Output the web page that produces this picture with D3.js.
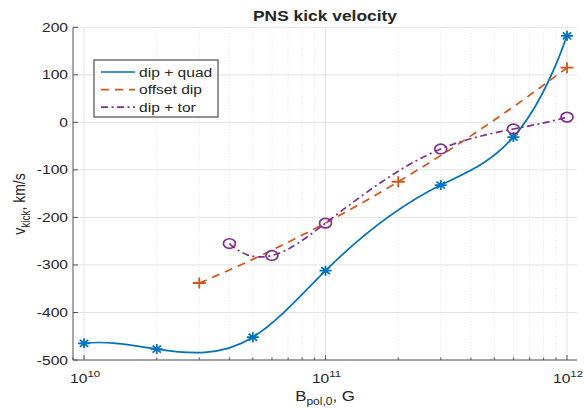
<!DOCTYPE html>
<html lang="en">
<head>
<meta charset="UTF-8">
<title>PNS kick velocity</title>
<style>
    body{ margin:0; background:white; }
    text{ font-family:"Liberation Sans", Arial, Helvetica, sans-serif; fill:#262626; }
</style>
</head>
<body>
<script src="https://cdn.jsdelivr.net/npm/d3@7"></script>
<script>
// donnees
const quadB = [1e10, 2e10, 5e10, 1e11, 3e11, 6e11, 1e12];
const quadV = [-465, -477, -452, -312, -132, -31, 182];
const offB  = [3e10, 2e11, 1e12];
const offV  = [-338, -125, 115];
const torB  = [4e10, 6e10, 1e11, 3e11, 6e11, 1e12];
const torV  = [-255, -280, -212, -56, -14, 11];
const yTicks = [-500, -400, -300, -200, -100, 0, 100, 200];
const xMajor = [1e10, 1e11, 1e12];
const xExpo  = ["10", "11", "12"];
const noms   = ["dip + quad", "offset dip", "dip + tor"];

const W = 584, H = 409;
const SX = 1.2; // l'image d'origine est etiree horizontalement

const svg = d3.select('body').append('svg')
    .attr('width', W).attr('height', H);

const x = d3.scaleLog().domain([9e9, 1.1e12]).range([73, 577]);
const y = d3.scaleLinear().domain([-500, 200]).range([360, 27.3]);

// petit utilitaire pour du texte etire
function texte(px, py, anchor, size, weight){
    return svg.append('text')
        .attr('transform', `translate(${px},${py}) scale(${SX},1)`)
        .attr('text-anchor', anchor)
        .style('font-size', size + 'px')
        .style('font-weight', weight || 'normal');
}

// courbe d3 : spline cubique y(x) "not-a-knot" (comme spline de matlab)
function curveSpline(context){
    let pts;
    return {
        areaStart(){}, areaEnd(){},
        lineStart(){ pts = []; },
        point(px, py){ pts.push([+px, +py]); },
        lineEnd(){
            const n = pts.length;
            if(n === 0) return;
            context.moveTo(pts[0][0], pts[0][1]);
            if(n < 3){ pts.slice(1).forEach(p => context.lineTo(p[0], p[1])); return; }
            const h = [], s = [];
            for(let i = 0; i < n - 1; i++){
                h.push(pts[i+1][0] - pts[i][0]);
                s.push((pts[i+1][1] - pts[i][1]) / h[i]);
            }
            // systeme pour les derivees secondes M
            const A = [], b = [];
            for(let i = 0; i < n; i++){ A.push(new Array(n).fill(0)); b.push(0); }
            for(let i = 1; i < n - 1; i++){
                A[i][i-1] = h[i-1]; A[i][i] = 2 * (h[i-1] + h[i]); A[i][i+1] = h[i];
                b[i] = 6 * (s[i] - s[i-1]);
            }
            if(n === 3){
                A[0][0] = 1; A[0][1] = -1;
                A[2][1] = -1; A[2][2] = 1;
            } else {
                A[0][0] = h[1]; A[0][1] = -(h[0] + h[1]); A[0][2] = h[0];
                A[n-1][n-3] = h[n-2]; A[n-1][n-2] = -(h[n-3] + h[n-2]); A[n-1][n-1] = h[n-3];
            }
            // elimination de Gauss
            for(let c = 0; c < n; c++){
                let p = c;
                for(let r = c + 1; r < n; r++) if(Math.abs(A[r][c]) > Math.abs(A[p][c])) p = r;
                [A[c], A[p]] = [A[p], A[c]]; [b[c], b[p]] = [b[p], b[c]];
                for(let r = c + 1; r < n; r++){
                    const f = A[r][c] / A[c][c];
                    for(let k = c; k < n; k++) A[r][k] -= f * A[c][k];
                    b[r] -= f * b[c];
                }
            }
            const M = new Array(n).fill(0);
            for(let r = n - 1; r >= 0; r--){
                let t = b[r];
                for(let k = r + 1; k < n; k++) t -= A[r][k] * M[k];
                M[r] = t / A[r][r];
            }
            for(let i = 0; i < n - 1; i++){
                const d0 = s[i] - h[i] * (2 * M[i] + M[i+1]) / 6;
                const d1 = s[i] + h[i] * (M[i] + 2 * M[i+1]) / 6;
                context.bezierCurveTo(
                    pts[i][0] + h[i] / 3, pts[i][1] + d0 * h[i] / 3,
                    pts[i+1][0] - h[i] / 3, pts[i+1][1] - d1 * h[i] / 3,
                    pts[i+1][0], pts[i+1][1]);
            }
        }
    };
}

// grille
let xMinor = [];
[1e9, 1e10, 1e11].forEach(d => { for(let k = 2; k <= 9; k++) xMinor.push(d * k); });
xMinor = xMinor.filter(v => v >= 9e9 && v <= 1.1e12 && !xMajor.includes(v));

svg.append('g').selectAll('line')
    .data(xMinor).enter().append('line')
        .attr('x1', d => x(d)).attr('x2', d => x(d))
        .attr('y1', y(200)).attr('y2', y(-500))
        .attr('stroke', '#dcdcdc').attr('stroke-width', 0.8)
        .attr('stroke-dasharray', '1,2');

svg.append('g').selectAll('line')
    .data(xMajor).enter().append('line')
        .attr('x1', d => x(d)).attr('x2', d => x(d))
        .attr('y1', y(200)).attr('y2', y(-500))
        .attr('stroke', '#e3e3e3').attr('stroke-width', 1);

svg.append('g').selectAll('line')
    .data(yTicks).enter().append('line')
        .attr('x1', x(9e9)).attr('x2', x(1.1e12))
        .attr('y1', d => y(d)).attr('y2', d => y(d))
        .attr('stroke', '#e3e3e3').attr('stroke-width', 1);

// axes (box off)
svg.append('line')
    .attr('x1', x(9e9)).attr('x2', x(9e9)).attr('y1', y(200)).attr('y2', y(-500))
    .attr('stroke', '#555').attr('stroke-width', 1);
svg.append('line')
    .attr('x1', x(9e9)).attr('x2', x(1.1e12)).attr('y1', y(-500)).attr('y2', y(-500))
    .attr('stroke', '#555').attr('stroke-width', 1);

// graduations vers l'interieur
svg.append('g').selectAll('line')
    .data(yTicks).enter().append('line')
        .attr('x1', x(9e9)).attr('x2', x(9e9) + 5)
        .attr('y1', d => y(d)).attr('y2', d => y(d))
        .attr('stroke', '#555');
svg.append('g').selectAll('line')
    .data(xMajor).enter().append('line')
        .attr('x1', d => x(d)).attr('x2', d => x(d))
        .attr('y1', y(-500)).attr('y2', y(-500) - 5)
        .attr('stroke', '#555');
svg.append('g').selectAll('line')
    .data(xMinor).enter().append('line')
        .attr('x1', d => x(d)).attr('x2', d => x(d))
        .attr('y1', y(-500)).attr('y2', y(-500) - 2.5)
        .attr('stroke', '#555');

// etiquettes
yTicks.forEach(d => {
    texte(x(9e9) - 5, y(d) + 4.5, 'end', 13).text(d);
});
xMajor.forEach((d, i) => {
    const t = texte(x(d) + 1, 383, 'middle', 13);
    t.append('tspan').text('10');
    t.append('tspan').attr('dy', -6).style('font-size', '9.5px').text(xExpo[i]);
});

texte(325, 21, 'middle', 14.5, 'bold').text('PNS kick velocity');

const xl = texte(325, 401, 'middle', 14);
xl.append('tspan').text('B');
xl.append('tspan').attr('dy', 4).style('font-size', '10px').text('pol,0');
xl.append('tspan').attr('dy', -4).text(', G');

const yl = svg.append('text')
    .attr('transform', `translate(25,204) scale(${SX},1) rotate(-90)`)
    .attr('text-anchor', 'middle')
    .style('font-size', '14px');
yl.append('tspan').text('v');
yl.append('tspan').attr('dy', 4).style('font-size', '10px').text('kick');
yl.append('tspan').attr('dy', -4).text(', km/s');

// courbes
const bleu = '#0072BD', orange = '#D95319', violet = '#7E2F8E';
const dashOff = '8,6', dashTor = '7,3.5,2,3.5';
const ligne = d3.line().x(d => x(d[0])).y(d => y(d[1])).curve(curveSpline);

svg.append('path').datum(d3.zip(quadB, quadV))
    .attr('d', ligne).attr('fill', 'none')
    .attr('stroke', bleu).attr('stroke-width', 1.7);
svg.append('path').datum(d3.zip(offB, offV))
    .attr('d', ligne).attr('fill', 'none')
    .attr('stroke', orange).attr('stroke-width', 1.7)
    .attr('stroke-dasharray', dashOff);
svg.append('path').datum(d3.zip(torB, torV))
    .attr('d', ligne).attr('fill', 'none')
    .attr('stroke', violet).attr('stroke-width', 1.7)
    .attr('stroke-dasharray', dashTor);

// marqueurs
const aster = 'M-6,0H6M0,-5V5M-4.2,-3.5L4.2,3.5M-4.2,3.5L4.2,-3.5';
const plus = 'M-6.5,0H6.5M0,-5.5V5.5';

svg.append('g').selectAll('path')
    .data(d3.zip(quadB, quadV)).enter().append('path')
        .attr('transform', d => `translate(${x(d[0])},${y(d[1])})`)
        .attr('d', aster).attr('stroke', bleu).attr('stroke-width', 1.8).attr('fill', 'none');
svg.append('g').selectAll('path')
    .data(d3.zip(offB, offV)).enter().append('path')
        .attr('transform', d => `translate(${x(d[0])},${y(d[1])})`)
        .attr('d', plus).attr('stroke', orange).attr('stroke-width', 1.8).attr('fill', 'none');
svg.append('g').selectAll('ellipse')
    .data(d3.zip(torB, torV)).enter().append('ellipse')
        .attr('cx', d => x(d[0])).attr('cy', d => y(d[1]))
        .attr('rx', 6).attr('ry', 4.8)
        .attr('stroke', violet).attr('stroke-width', 1.7).attr('fill', 'none');

// legende
const leg = svg.append('g');
leg.append('rect')
    .attr('x', 94).attr('y', 60).attr('width', 124).attr('height', 57)
    .attr('fill', 'white').attr('stroke', '#262626').attr('stroke-width', 1);
const styles = [
    {c: bleu, dash: null},
    {c: orange, dash: dashOff},
    {c: violet, dash: dashTor}
];
styles.forEach((s, i) => {
    const ly = 72 + i * 17.6;
    leg.append('line')
        .attr('x1', 101).attr('x2', 135).attr('y1', ly).attr('y2', ly)
        .attr('stroke', s.c).attr('stroke-width', 1.7)
        .attr('stroke-dasharray', s.dash);
    texte(139, ly + 4.5, 'start', 13).text(noms[i]);
});
</script>
</body>
</html>
